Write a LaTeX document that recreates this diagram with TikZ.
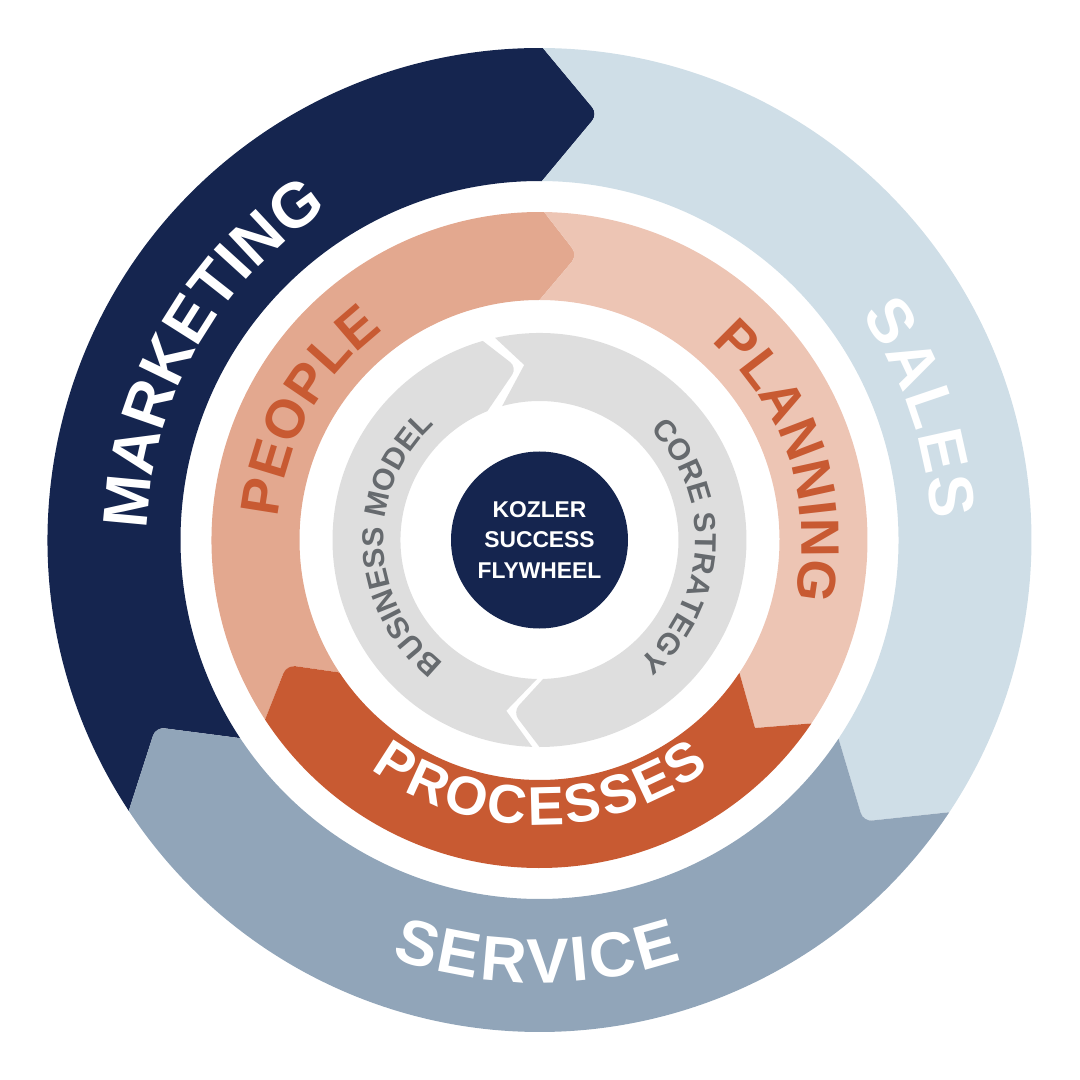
\documentclass[tikz,border=0pt]{standalone}
\usepackage{fontspec}
\setmainfont{Liberation Sans}
\usetikzlibrary{decorations.text}
\definecolor{navy}{HTML}{15254F}
\definecolor{salesblue}{HTML}{CFDEE7}
\definecolor{serviceblue}{HTML}{91A5B9}
\definecolor{rust}{HTML}{C85A32}
\definecolor{peoplefill}{HTML}{E3A88F}
\definecolor{planfill}{HTML}{EDC5B4}
\definecolor{lightgrey}{HTML}{DEDEDE}
\definecolor{textgrey}{HTML}{666A6E}
\tikzset{
	curvedlabel/.style n args={3}{decorate,decoration={text along path,text align=fit to path,
			text={|\fontsize{#3}{#3}\selectfont\bfseries\color{#2}|#1}}},
	tipround/.style={rounded corners=2.5pt}
}
\begin{document}
\begin{tikzpicture}[line join=round,line cap=round]
	\useasboundingbox (-5.395,-5.40) rectangle (5.405,5.40);
	%%Outer ring
	\path
	(89.6:4.92)coordinate(MO)(82.2:4.3)coordinate(MT)(89.6:3.59)coordinate(MI)
	(-33.6:4.92)coordinate(SO)(-41:4.29)coordinate(ST)(-33.6:3.59)coordinate(SI)
	(213.4:4.92)coordinate(VO)(206:4.27)coordinate(VT)(213.5:3.59)coordinate(VI)
	;
	\fill[navy] (VO) arc[start angle=213.4,end angle=89.6,radius=4.92] [tipround]--(MT)[sharp corners]--(MI)
	arc[start angle=89.6,end angle=213.5,radius=3.59] [tipround]--(VT)[sharp corners]--cycle;
	\fill[salesblue] (MO) arc[start angle=89.6,end angle=-33.6,radius=4.92] [tipround]--(ST)[sharp corners]--(SI)
	arc[start angle=-33.6,end angle=89.6,radius=3.59] [tipround]--(MT)[sharp corners]--cycle;
	\fill[serviceblue] (SO) arc[start angle=-33.6,end angle=-146.6,radius=4.92] [tipround]--(VT)[sharp corners]--(VI)
	arc[start angle=213.5,end angle=326.4,radius=3.59] [tipround]--(ST)[sharp corners]--cycle;
	%%Middle ring
	\path
	(89.2:3.28)coordinate(PO)(82.4:2.875)coordinate(PT)(90:2.4)coordinate(PI)
	(-34:3.28)coordinate(LO)(-41.1:2.86)coordinate(LT)(-33.6:2.4)coordinate(LI)
	(213.2:3.28)coordinate(RO)(206.3:2.82)coordinate(RT)(213.5:2.4)coordinate(RI)
	;
	\fill[peoplefill] (RO) arc[start angle=213.2,end angle=89.2,radius=3.28] [tipround]--(PT)[sharp corners]--(PI)
	arc[start angle=90,end angle=213.5,radius=2.4] [tipround]--(RT)[sharp corners]--cycle;
	\fill[planfill] (PO) arc[start angle=89.2,end angle=-34,radius=3.28] --(LT)--(LI)
	arc[start angle=-33.6,end angle=90,radius=2.4] [tipround]--(PT)[sharp corners]--cycle;
	\fill[rust] (LO) arc[start angle=-34,end angle=-146.8,radius=3.28] [tipround]--(RT)[sharp corners]--(RI)
	arc[start angle=213.5,end angle=326.4,radius=2.4] --(LT)--cycle;
	%%Inner ring
	\path
	(105.9:2.07)coordinate(BO)(97.4:1.74)coordinate(BT)(112:1.39)coordinate(BI)
	(268:2.07)coordinate(BU)(259:1.74)coordinate(BV)(269:1.39)coordinate(BW)
	(102.4:2.07)coordinate(CO)(95:1.757)coordinate(CT)(105.6:1.39)coordinate(CI)
	(270:2.07)coordinate(CU)(261.2:1.74)coordinate(CV)(271.5:1.39)coordinate(CW)
	;
	\fill[lightgrey] (BU) arc[start angle=268,end angle=105.9,radius=2.07] [tipround]--(BT)[sharp corners]--(BI)
	arc[start angle=112,end angle=269,radius=1.39] --(BV)--cycle;
	\fill[lightgrey] (CO) arc[start angle=102.4,end angle=-90,radius=2.07] [tipround]--(CV)[sharp corners]--(CW)
	arc[start angle=-88.5,end angle=105.6,radius=1.39] --(CT)--cycle;
	%%Hub
	\node[circle,fill=navy,minimum size=1.77cm,inner sep=0pt] (hub) at (0,0) {};
	\node[text=white,align=center,font=\fontsize{6.5}{8.8}\selectfont\bfseries] (hubtext) at (hub) {KOZLER\\SUCCESS\\FLYWHEEL};
	%%Labels
	\path[curvedlabel={MARKETING}{white}{18}] (178.5:3.92) arc[start angle=178.5,end angle=123,radius=3.92];
	\path[curvedlabel={SALES}{white}{18}] (35:3.92) arc[start angle=35,end angle=3,radius=3.92];
	\path[curvedlabel={SERVICE}{white}{18}] (250.5:4.43) arc[start angle=250.5,end angle=288.7,radius=4.43];
	\path[curvedlabel={PROCESSES}{white}{15.5}] (233.6:2.85) arc[start angle=233.6,end angle=306.7,radius=2.85];
	\path[curvedlabel={PEOPLE}{rust}{15.5}] (175:2.62) arc[start angle=175,end angle=129,radius=2.62];
	\path[curvedlabel={PLANNING}{rust}{15.4}] (49:2.62) arc[start angle=49,end angle=-13,radius=2.62];
	\path[curvedlabel={BUSINESS MODEL}{textgrey}{8.6}] (232:1.56) arc[start angle=232,end angle=134,radius=1.56];
	\path[curvedlabel={CORE STRATEGY}{textgrey}{8.6}] (45:1.56) arc[start angle=45,end angle=-47.7,radius=1.56];
\end{tikzpicture}
\end{document}
